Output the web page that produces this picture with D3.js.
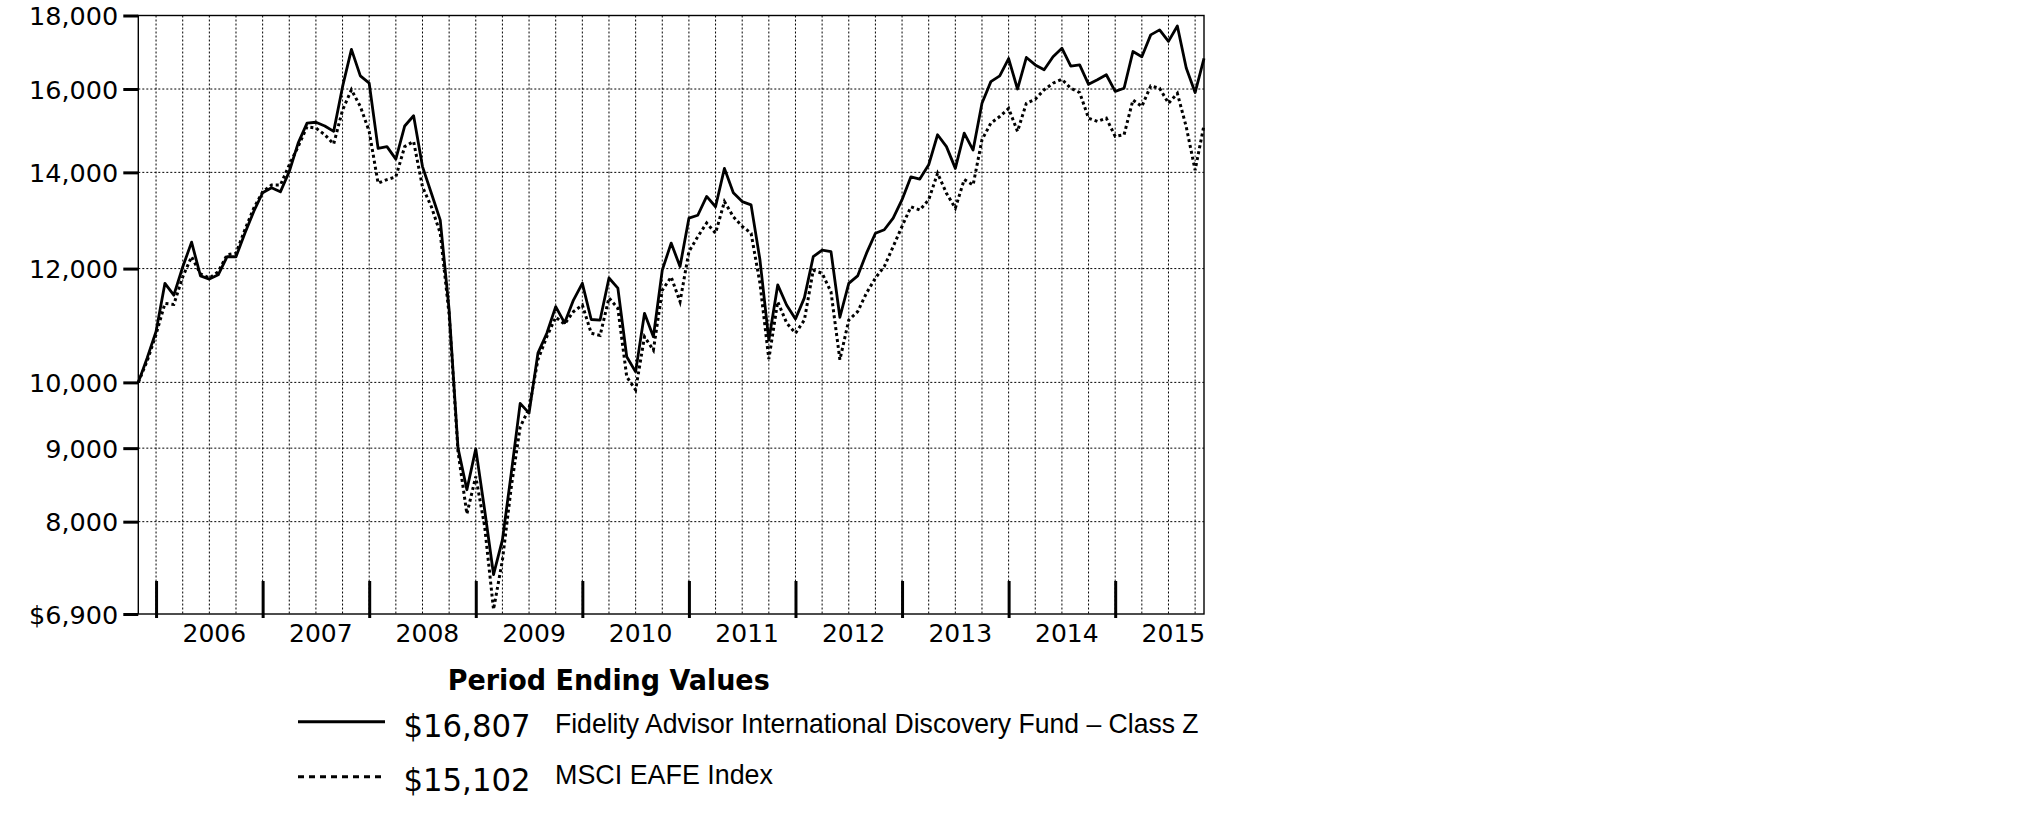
<!DOCTYPE html>
<html>
<head>
<meta charset="utf-8">
<script src="https://cdn.jsdelivr.net/npm/d3@7"></script>
<style>
  html, body { margin: 0; padding: 0; background: #fff; }
  svg { display: block; }
</style>
</head>
<body>
<svg id="chart" width="2026" height="830"></svg>
<script>
// ---------------- DATA ----------------
// Monthly period-ending values, Oct 2005 (index 0) to Oct 2015 (index 120)
const startYear = 2005, startMonth = 10;
const fundName = "Fidelity Advisor International Discovery Fund \u2013 Class Z";
const indexName = "MSCI EAFE Index";
const fundFinal = "$16,807";
const indexFinal = "$15,102";

const fundValues = [
  10000,10400,10850,11720,11500,12030,12520,11860,11800,11880,12230,12230,
  12700,13150,13550,13660,13570,14020,14670,15150,15170,15080,14950,16060,
  17050,16340,16150,14550,14590,14300,15080,15330,14130,13540,12970,11230,
  9000,8420,8990,8150,7350,7770,8650,9670,9520,10480,10820,11290,
  11000,11410,11720,11060,11050,11820,11630,10420,10170,11170,10760,11970,
  12500,12040,13010,13070,13470,13250,14090,13550,13360,13290,12170,10700,
  11690,11320,11070,11450,12230,12360,12330,11100,11720,11860,12300,12700,
  12770,13010,13400,13900,13850,14170,14870,14590,14090,14910,14510,15640,
  16190,16340,16800,16000,16830,16630,16500,16850,17080,16600,16630,16120,
  16240,16370,15940,16020,16990,16850,17450,17590,17270,17700,16550,15910,
  16807
];
const indexValues = [
  10000,10350,10800,11350,11330,11840,12230,11900,11820,11940,12270,12300,
  12770,13220,13570,13720,13720,14170,14590,15060,15030,14870,14650,15470,
  15980,15560,14950,13760,13840,13900,14590,14710,13680,13250,12700,11150,
  8950,8100,8600,7940,6950,7520,8460,9310,9590,10370,10760,11100,
  10980,11200,11320,10820,10780,11450,11260,10090,9880,10760,10530,11590,
  11840,11380,12330,12630,12910,12700,13360,13040,12840,12700,11720,10380,
  11380,11000,10820,11050,11970,11910,11560,10370,11050,11200,11540,11820,
  12040,12430,12840,13250,13180,13400,13980,13540,13220,13840,13720,14750,
  15150,15310,15510,14950,15640,15740,15980,16150,16250,16020,15910,15270,
  15190,15270,14830,14870,15720,15560,16080,16020,15640,15890,15060,14050,
  15102
];
const yTickValues = [6900, 8000, 9000, 10000, 12000, 14000, 16000, 18000];
const yTickLabels = ["$6,900", "8,000", "9,000", "10,000", "12,000", "14,000", "16,000", "18,000"];
const yearLabels = ["2006","2007","2008","2009","2010","2011","2012","2013","2014","2015"];

// ---------------- LAYOUT ----------------
const L = 138.3, R = 1204, T = 15.5, B = 614;
const svg = d3.select("#chart");
svg.append("rect").attr("width", 2026).attr("height", 830).attr("fill", "#fff");

const nMonths = fundValues.length;
const x = d3.scaleLinear().domain([0, nMonths - 1]).range([L, R]);
const y = d3.scaleLog().domain([6900, 18000]).range([B, T]);

const monthIdx = d3.range(nMonths);
const monthOf = i => ((startMonth - 1 + i) % 12) + 1;
const quarterEnds = monthIdx.filter(i => [3,6,9,12].includes(monthOf(i)) && i > 0 && i < nMonths - 1);
const yearEnds = monthIdx.filter(i => monthOf(i) === 12);

// grid
const grid = svg.append("g");
grid.selectAll("line.v").data(quarterEnds).join("line")
  .attr("x1", d => x(d)).attr("x2", d => x(d))
  .attr("y1", T).attr("y2", B)
  .attr("stroke", "#000").attr("stroke-width", 1).attr("stroke-dasharray", "2,2");
grid.selectAll("line.h").data(yTickValues.filter(v => v > 6900 && v < 18000)).join("line")
  .attr("x1", L).attr("x2", R)
  .attr("y1", d => y(d)).attr("y2", d => y(d))
  .attr("stroke", "#000").attr("stroke-width", 1).attr("stroke-dasharray", "2,2");

// frame
svg.append("rect").attr("x", L).attr("y", T).attr("width", R - L).attr("height", B - T)
  .attr("fill", "none").attr("stroke", "#000").attr("stroke-width", 1.4);

// y axis
const yAxis = d3.axisLeft(y).tickValues(yTickValues)
  .tickFormat((d, i) => yTickLabels[i]).tickSize(15).tickPadding(5);
const gy = svg.append("g").attr("transform", `translate(${L},0)`).call(yAxis);
gy.select(".domain").remove();
gy.selectAll(".tick line").attr("stroke", "#000").attr("stroke-width", 3);
gy.selectAll(".tick text").attr("font-family", "'DejaVu Sans', Verdana, sans-serif")
  .attr("font-size", 25.5).attr("fill", "#000").attr("dy", null).attr("dominant-baseline", "central");

// x axis: year-end ticks
const xAxis = d3.axisBottom(x).tickValues(yearEnds).tickFormat("").tickSizeInner(-33).tickSizeOuter(0);
const gx = svg.append("g").attr("transform", `translate(0,${B})`).call(xAxis);
gx.select(".domain").remove();
gx.selectAll(".tick line").attr("stroke", "#000").attr("stroke-width", 3).attr("y1", 4);

// year labels centred mid year
const labelPos = yearEnds.map(i => i + 6.5);
const xLab = d3.axisBottom(x).tickValues(labelPos.slice(0, yearLabels.length))
  .tickFormat((d, i) => yearLabels[i]).tickSize(0).tickPadding(0);
const gl = svg.append("g").attr("transform", `translate(0,${B})`).call(xLab);
gl.select(".domain").remove();
gl.selectAll(".tick text").attr("font-family", "'DejaVu Sans', Verdana, sans-serif")
  .attr("font-size", 25).attr("fill", "#000").attr("dy", null).attr("y", 27.7);

// lines
const line = d3.line().x((d, i) => x(i)).y(d => y(d));
svg.append("path").datum(indexValues).attr("d", line)
  .attr("fill", "none").attr("stroke", "#000").attr("stroke-width", 3)
  .attr("stroke-dasharray", "3,3");
svg.append("path").datum(fundValues).attr("d", line)
  .attr("fill", "none").attr("stroke", "#000").attr("stroke-width", 2.8)
  .attr("stroke-linejoin", "round");

// ---------------- LEGEND ----------------
const condensed = "'DejaVu Sans Condensed', 'DejaVu Sans', Verdana, sans-serif";
svg.append("text").attr("x", 447.7).attr("y", 690)
  .attr("font-family", condensed).attr("font-weight", "bold").attr("font-stretch", "condensed")
  .attr("font-size", 29).attr("textLength", 322).attr("lengthAdjust", "spacingAndGlyphs")
  .text("Period Ending Values");

const legend = [
  { dash: null, value: fundFinal, name: fundName, ly: 721.7, vy: 737, ny: 733, nameW: 643.6 },
  { dash: "6,5", value: indexFinal, name: indexName, ly: 776.7, vy: 791, ny: 783.5, nameW: 218 }
];
const lg = svg.append("g");
legend.forEach(d => {
  lg.append("line").attr("x1", 298).attr("x2", d.dash ? 381 : 385)
    .attr("y1", d.ly).attr("y2", d.ly).attr("stroke", "#000").attr("stroke-width", 3)
    .attr("stroke-dasharray", d.dash);
  lg.append("text").attr("x", 403.5).attr("y", d.vy)
    .attr("font-family", condensed).attr("font-stretch", "condensed").attr("font-size", 32)
    .attr("textLength", 127).attr("lengthAdjust", "spacingAndGlyphs").text(d.value);
  lg.append("text").attr("x", 555).attr("y", d.ny)
    .attr("font-family", "'Liberation Sans', Arial, sans-serif").attr("font-size", 28.5)
    .attr("textLength", d.nameW).attr("lengthAdjust", "spacingAndGlyphs").text(d.name);
});
</script>
</body>
</html>
